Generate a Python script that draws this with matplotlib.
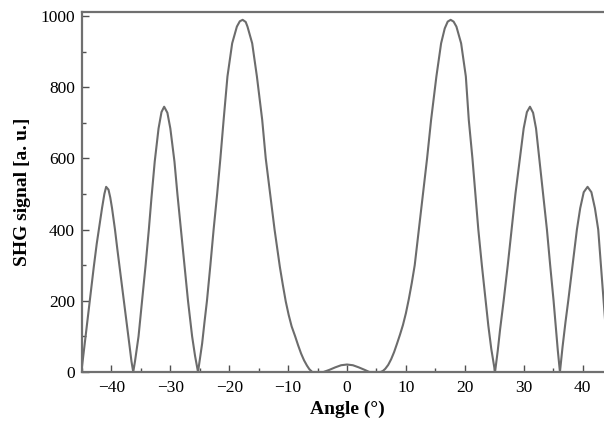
import numpy as np
import matplotlib
matplotlib.use('Agg')
import matplotlib.pyplot as plt
from matplotlib.ticker import MultipleLocator

# SHG signal vs incidence angle
angle = [-45.0, -44.5, -44.0, -43.5, -43.0, -42.5, -42.1, -41.6, -41.2, -40.9, -40.5, -40.2,
         -39.9, -39.4, -39.0, -38.5, -38.0, -37.6, -37.2, -36.9, -36.6, -36.3,
         -36.0, -35.4, -34.8, -34.2, -33.65, -33.2, -32.65, -32.0, -31.5, -31.05, -30.5, -30.0,
         -29.3, -28.8, -28.2, -27.6, -27.0, -26.3, -25.8, -25.3,
         -24.6, -24.2, -23.78, -23.2, -22.65, -22.05, -21.5, -20.95, -20.3, -19.5, -18.7,
         -18.2, -17.72, -17.2, -16.9, -16.1, -15.3, -14.4, -13.8, -13.05, -12.3, -11.4,
         -10.9, -10.4, -9.9, -9.4, -8.8, -8.3, -7.8, -7.3, -6.8, -6.4, -5.9,
         -5.0, -4.0, -3.0, -2.0, -1.0, 0.0, 1.0, 2.0, 3.0, 3.8, 5.0, 5.7,
         6.1, 6.5, 7.0, 7.5, 8.0, 8.5, 9.0, 9.5, 10.0, 10.5, 11.0, 11.5, 12.2, 12.9, 13.6,
         14.28, 15.18, 15.98, 16.6, 17.1, 17.6, 18.1, 18.58, 19.38, 20.18, 20.68, 21.3, 21.8,
         22.3, 22.9, 23.55, 24.0, 24.5, 25.14,
         25.6, 26.0, 26.6, 27.3, 27.95, 28.6, 29.3, 30.0, 30.55, 31.07, 31.6, 32.1,
         32.7, 33.3, 33.95, 34.5, 35.08, 35.5, 35.8, 36.16,
         36.6, 37.1, 37.57, 38.3, 39.04, 39.6, 40.2, 40.85, 41.5, 42.1, 42.66, 43.2,
         43.8, 44.4, 45.0]
shg = [15, 85, 155, 225, 295, 360, 405, 460, 500, 520, 512, 490,
       460, 400, 345, 280, 215, 165, 110, 70, 30, 0,
       30, 100, 200, 300, 400, 490, 591, 684, 730, 745, 728, 684,
       591, 500, 400, 300, 200, 100, 45, 0,
       80, 140, 200, 300, 400, 500, 600, 708, 830, 923, 970,
       985, 989, 983, 970, 923, 830, 708, 600, 500, 400, 295,
       245, 198, 160, 128, 100, 75, 52, 33, 18, 8, 0,
       0, 0, 6, 13, 19, 21, 19, 13, 6, 0, 0, 0,
       3, 9, 20, 36, 56, 80, 105, 132, 165, 205, 250, 300, 400, 500, 600,
       708, 830, 923, 965, 984, 989, 984, 970, 923, 830, 708, 600, 500,
       400, 300, 200, 130, 65, 0,
       60, 120, 200, 300, 400, 500, 591, 684, 730, 745, 728, 684,
       591, 500, 400, 300, 200, 120, 60, 0,
       70, 140, 200, 300, 400, 460, 505, 520, 505, 460, 400, 280,
       150, 60, 15]

plt.rcParams['font.family'] = ['Liberation Serif', 'DejaVu Serif']

fig = plt.figure(figsize=(6.04, 4.25), dpi=100)
ax = fig.add_axes([82/604, 1-372/425, (612-82)/604, 360/425])

ax.plot(angle, shg, color='#6c6c6c', lw=1.5)

ax.set_xlim(-45, 45)
ax.set_ylim(0, 1011)
ax.xaxis.set_major_locator(MultipleLocator(10))
ax.xaxis.set_minor_locator(MultipleLocator(5))
ax.yaxis.set_major_locator(MultipleLocator(200))
ax.yaxis.set_minor_locator(MultipleLocator(100))
ax.tick_params(which='both', direction='in', colors='#505050', labelcolor='black', labelsize=12.5)
ax.tick_params(which='major', length=5, width=1)
ax.tick_params(which='minor', length=3, width=1)
ax.tick_params(axis='x', pad=6)
ax.tick_params(axis='y', pad=5)
for s in ax.spines.values():
    s.set_color('#707070')
    s.set_linewidth(1.6)

ax.set_xlabel('Angle (°)', fontsize=14, fontweight='bold', labelpad=3)
ax.set_ylabel('SHG signal [a. u.]', fontsize=14, fontweight='bold', labelpad=7)

fig.savefig('out.png', dpi=100)
